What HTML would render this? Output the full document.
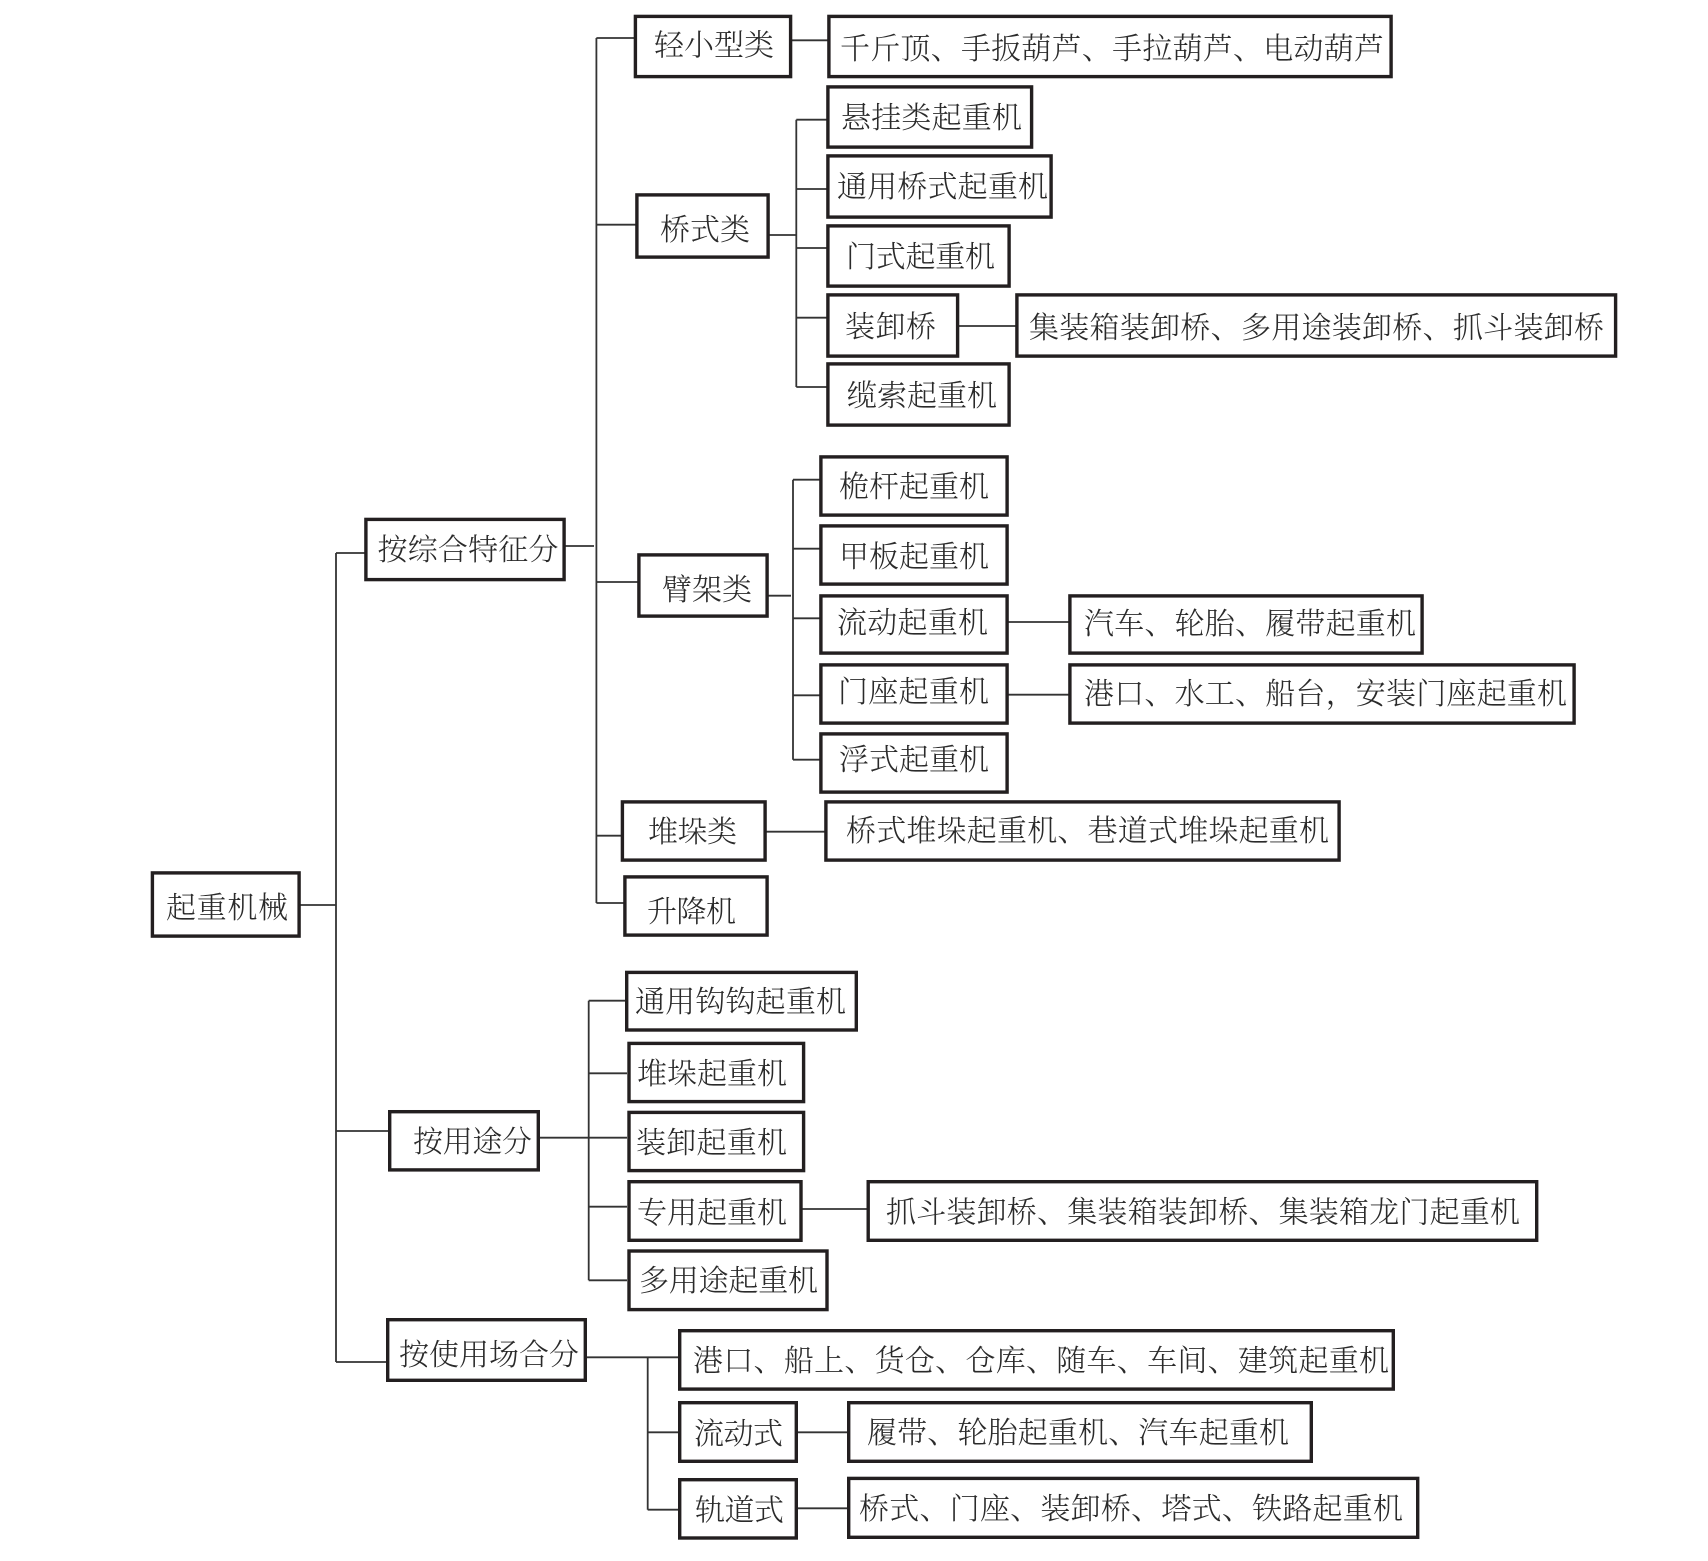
<!DOCTYPE html>
<html lang="zh"><head><meta charset="utf-8"><style>
html,body{margin:0;padding:0;background:#fff}
svg{display:block}
rect{fill:#fff;stroke:#231f20;stroke-width:3.4}
path{fill:none;stroke:#333;stroke-width:1.8}
text{font-family:"Liberation Serif","Noto Serif CJK SC",serif;font-size:30px;fill:#2a2a2a;font-weight:300}
</style></head><body>
<svg width="1708" height="1561" viewBox="0 0 1708 1561" xmlns="http://www.w3.org/2000/svg">
<path d="M300 905H336M336 553V1362M336 553H365M336 1131H388M336 1362H386"/>
<path d="M565 546H594M596.4 38V903M596.4 38H634M596.4 224.7H636M596.4 582H638M596.4 835.7H621M596.4 903H624"/>
<path d="M791 40.3H828"/>
<path d="M769 235H796M796.3 119.7V387M796.3 119.7H827M796.3 189H827M796.3 248H827M796.3 317.7H827M796.3 387H827M958 326H1016"/>
<path d="M768 595.7H791M793 479.7V759.7M793 479.7H820M793 548.7H820M793 618.3H820M793 695.3H820M793 759.7H820M1008 622H1069M1008 694.7H1069"/>
<path d="M766 831.7H825"/>
<path d="M540 1137.7H627M588.7 1000.7V1280.3M588.7 1000.7H625M588.7 1073.3H627M588.7 1206.7H627M588.7 1280.3H627M802 1209H867"/>
<path d="M587 1357.3H678M647.7 1357.3V1509.7M647.7 1432.3H678M647.7 1509.7H678M798 1432.3H847M798 1508.3H847"/>

<rect x="152.400" y="872.900" width="146.700" height="63.200"/>
<rect x="365.900" y="519.400" width="198.200" height="60.200"/>
<rect x="389.700" y="1111.700" width="148.600" height="58.200"/>
<rect x="387.700" y="1319.700" width="197.600" height="60.600"/>
<rect x="635.400" y="16.400" width="155.200" height="60.200"/>
<rect x="828.900" y="16.400" width="562.200" height="60.200"/>
<rect x="636.900" y="194.900" width="131.200" height="62.200"/>
<rect x="827.900" y="86.900" width="203.700" height="60.200"/>
<rect x="827.900" y="155.900" width="223.200" height="61.200"/>
<rect x="827.900" y="225.900" width="181.200" height="60.200"/>
<rect x="827.900" y="294.900" width="129.700" height="61.200"/>
<rect x="1016.900" y="294.900" width="598.700" height="61.200"/>
<rect x="827.900" y="363.900" width="181.200" height="61.200"/>
<rect x="638.900" y="554.900" width="128.200" height="61.200"/>
<rect x="820.900" y="456.900" width="186.200" height="58.200"/>
<rect x="820.900" y="525.900" width="186.200" height="58.200"/>
<rect x="820.900" y="595.900" width="186.200" height="57.200"/>
<rect x="820.900" y="664.900" width="186.200" height="58.200"/>
<rect x="820.900" y="733.900" width="186.200" height="58.200"/>
<rect x="1069.900" y="595.900" width="352.200" height="57.200"/>
<rect x="1069.900" y="664.900" width="504.200" height="58.200"/>
<rect x="622.400" y="801.900" width="142.700" height="58.200"/>
<rect x="825.900" y="801.900" width="513.200" height="58.200"/>
<rect x="624.900" y="876.900" width="142.200" height="58.200"/>
<rect x="626.700" y="972.400" width="229.600" height="57.600"/>
<rect x="629" y="1043.400" width="174.600" height="58.200"/>
<rect x="629" y="1112.400" width="174.600" height="58.200"/>
<rect x="629" y="1181.700" width="172" height="58.600"/>
<rect x="868.200" y="1181.700" width="668.500" height="58.600"/>
<rect x="629" y="1251" width="198" height="58.600"/>
<rect x="679.700" y="1330.700" width="713.600" height="58.400"/>
<rect x="679.700" y="1402.700" width="116.600" height="58.600"/>
<rect x="848.700" y="1402.700" width="462.600" height="58.600"/>
<rect x="679.700" y="1479.700" width="116.600" height="58.300"/>
<rect x="848.700" y="1478.400" width="569" height="58.900"/>

<text x="166" y="918" textLength="122">起重机械</text>
<text x="377.500" y="560" textLength="181">按综合特征分</text>
<text x="413" y="1152" textLength="119">按用途分</text>
<text x="399" y="1365" textLength="180">按使用场合分</text>
<text x="654" y="55.500" textLength="120">轻小型类</text>
<text x="840" y="59" textLength="544">千斤顶、手扳葫芦、手拉葫芦、电动葫芦</text>
<text x="660" y="240" textLength="90">桥式类</text>
<text x="841" y="128" textLength="181">悬挂类起重机</text>
<text x="837" y="197" textLength="211">通用桥式起重机</text>
<text x="846" y="267" textLength="149">门式起重机</text>
<text x="845" y="337" textLength="91">装卸桥</text>
<text x="1029" y="338" textLength="575">集装箱装卸桥、多用途装卸桥、抓斗装卸桥</text>
<text x="847" y="406" textLength="150">缆索起重机</text>
<text x="662" y="600" textLength="90">臂架类</text>
<text x="839" y="497" textLength="150">桅杆起重机</text>
<text x="839" y="567" textLength="150">甲板起重机</text>
<text x="837" y="633" textLength="151">流动起重机</text>
<text x="838" y="702" textLength="151">门座起重机</text>
<text x="839" y="770" textLength="150">浮式起重机</text>
<text x="1084" y="634" textLength="332">汽车、轮胎、履带起重机</text>
<text x="1084" y="704" textLength="483">港口、水工、船台，安装门座起重机</text>
<text x="648" y="842" textLength="89">堆垛类</text>
<text x="846" y="841" textLength="483">桥式堆垛起重机、巷道式堆垛起重机</text>
<text x="647" y="922" textLength="89">升降机</text>
<text x="635" y="1012" textLength="211">通用钩钩起重机</text>
<text x="637" y="1084" textLength="150">堆垛起重机</text>
<text x="636" y="1153" textLength="151">装卸起重机</text>
<text x="637" y="1223" textLength="150">专用起重机</text>
<text x="886" y="1222.500" textLength="634">抓斗装卸桥、集装箱装卸桥、集装箱龙门起重机</text>
<text x="639" y="1291" textLength="179">多用途起重机</text>
<text x="693" y="1371" textLength="696">港口、船上、货仓、仓库、随车、车间、建筑起重机</text>
<text x="694" y="1444" textLength="89">流动式</text>
<text x="867" y="1443" textLength="422">履带、轮胎起重机、汽车起重机</text>
<text x="695" y="1520.500" textLength="89">轨道式</text>
<text x="859" y="1519" textLength="544">桥式、门座、装卸桥、塔式、铁路起重机</text>
</svg>
</body></html>
